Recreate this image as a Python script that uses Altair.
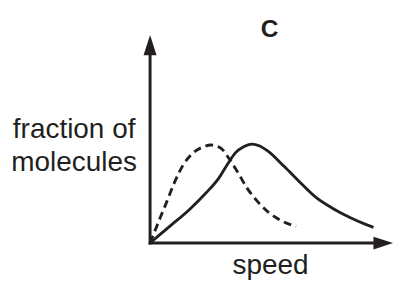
import altair as alt
import pandas as pd

# Curves (x: speed, y: fraction, in arbitrary units)
dash_x = [0, 2, 10, 17, 25, 34, 44, 54, 62, 72, 80, 89, 99, 110, 120, 130, 140, 149]
dash_y = [0, 5, 25, 42, 62, 80, 92, 98, 100, 97, 87, 73, 56, 42, 32, 25, 20, 17]
solid_x = [0, 20, 40, 57, 70, 80, 87, 95, 104, 112, 120, 137, 154, 170, 187, 204, 220, 228]
solid_y = [0, 17, 34, 51, 66, 82, 92, 98, 101, 99, 94, 78, 61, 46, 35, 26, 19, 16]

title_text = "C"
y_label_lines = ["fraction of", "molecules"]
x_label = "speed"

INK = "#231f20"
W, H = 248, 212
x_scale = alt.Scale(domain=[0, W], nice=False, zero=True)
y_scale = alt.Scale(domain=[0, H], nice=False, zero=True)

dash_df = pd.DataFrame({"x": dash_x, "y": dash_y})
solid_df = pd.DataFrame({"x": solid_x, "y": solid_y})
one = pd.DataFrame({"a": [0]})

dashed = alt.Chart(dash_df).mark_line(
    color=INK, strokeWidth=2.9, strokeDash=[8, 5], interpolate="monotone"
).encode(
    x=alt.X("x:Q", scale=x_scale, axis=None),
    y=alt.Y("y:Q", scale=y_scale, axis=None),
)
solid = alt.Chart(solid_df).mark_line(
    color=INK, strokeWidth=2.9, interpolate="monotone"
).encode(
    x=alt.X("x:Q", scale=x_scale, axis=None),
    y=alt.Y("y:Q", scale=y_scale, axis=None),
)

y_axis_line = alt.Chart(one).mark_rule(color=INK, strokeWidth=3, strokeCap="square").encode(
    x=alt.value(0), y=alt.value(14), y2=alt.value(H)
)
x_axis_line = alt.Chart(one).mark_rule(color=INK, strokeWidth=3, strokeCap="square").encode(
    y=alt.value(H), x=alt.value(0), x2=alt.value(W - 12)
)
up_arrow = alt.Chart(one).mark_point(
    shape="M0,-1L-0.65,1L0.65,1Z", size=420, filled=True, opacity=1, color=INK, strokeWidth=0
).encode(x=alt.value(0), y=alt.value(10))
right_arrow = alt.Chart(one).mark_point(
    shape="M1,0L-1,-0.65L-1,0.65Z", size=400, filled=True, opacity=1, color=INK, strokeWidth=0
).encode(x=alt.value(W - 10), y=alt.value(H))

def label(txt, x, y, size=28.5, weight="normal"):
    return alt.Chart(one).mark_text(
        align="center", baseline="alphabetic", font="Liberation Sans",
        fontSize=size, fontWeight=weight, color=INK
    ).encode(x=alt.value(x), y=alt.value(y), text=alt.value(txt))

title = label(title_text, 122, 2, size=25, weight="bold")
yl1 = label(y_label_lines[0], -77.5, 105)
yl2 = label(y_label_lines[1], -77.5, 139)
xl = label(x_label, 123, 244)

chart = alt.layer(
    dashed, solid, y_axis_line, x_axis_line, up_arrow, right_arrow, title, yl1, yl2, xl
).properties(
    width=W, height=H,
    autosize=alt.AutoSizeParams(type="none"),
    padding={"left": 145, "top": 25, "right": 3, "bottom": 40},
    background="white",
).configure_view(stroke=None)

chart.save("out.html", embed_options={"renderer": "svg", "actions": False})
